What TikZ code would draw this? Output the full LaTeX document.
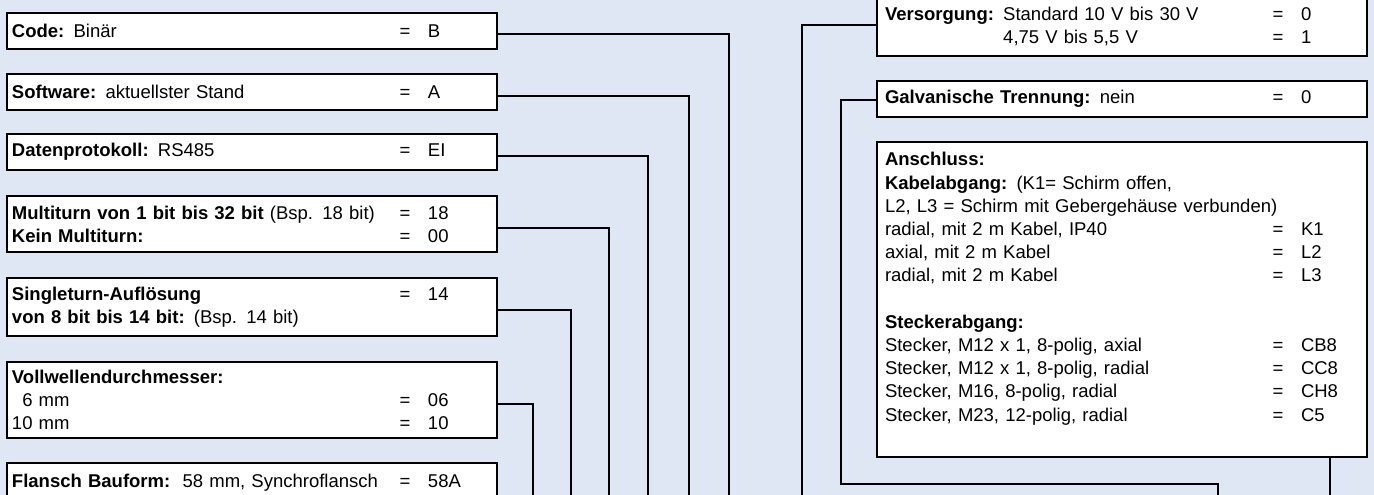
\documentclass[tikz,border=0pt]{standalone}
\usepackage{fontspec}
\setmainfont{Liberation Sans}

\definecolor{panel}{RGB}{224,231,244}
\newcommand{\keyrow}[2]{\makebox[387pt][l]{#1}\makebox[12pt]{=}\hspace{17pt}#2}

\begin{document}
\begin{tikzpicture}[x=1pt, y=-1pt,
    font=\fontsize{18.5}{23.2}\selectfont,
    box/.style={draw, line width=2.6pt, fill=white, anchor=north west, outer sep=0pt, align=left},
    leftbox/.style={box, text width=480pt, inner xsep=5pt},
    rightbox/.style={box, text width=474pt, inner xsep=8pt},
    link/.style={line width=1.5pt}]

    \fill[panel] (0,0) rectangle (1374,495);
    \useasboundingbox (0,0) rectangle (1374,495);
    \clip (0,0) rectangle (1374,495);

    % left column
    \node[leftbox, minimum height=36] at (7, 13) (code) {\keyrow{\textbf{Code:} Binär}{B}};
    \node[leftbox, minimum height=36] at (7, 74) (software) {\keyrow{\textbf{Software:} aktuellster Stand}{A}};
    \node[leftbox, minimum height=36] at (7, 134) (protocol) {\keyrow{\textbf{Datenprotokoll:} RS485}{EI}};
    \node[leftbox, minimum height=56] at (7, 196) (multi) {\keyrow{\textbf{Multiturn von 1 bit bis 32 bit} (Bsp. 18 bit)}{18}\\
        \keyrow{\textbf{Kein Multiturn:}}{00}};
    \node[leftbox, minimum height=58] at (7, 278) (single) {\keyrow{\textbf{Singleturn-Auflösung}}{14}\\
        \textbf{von 8 bit bis 14 bit:} (Bsp. 14 bit)};
    \node[leftbox, minimum height=76] at (7, 362) (shaft) {\textbf{Vollwellendurchmesser:}\\
        \keyrow{\phantom{1}6 mm}{06}\\
        \keyrow{10 mm}{10}};
    \node[leftbox, minimum height=40] at (7, 463) (flange) {\keyrow{\textbf{Flansch Bauform:}\ \ 58 mm, Synchroflansch}{58A}};

    % right column
    \node[rightbox, minimum height=58] at (877, -2) (supply) {\keyrow{\textbf{Versorgung:} Standard 10 V bis 30 V}{0}\\
        \keyrow{\phantom{\textbf{Versorgung:} }4,75 V bis 5,5 V}{1}};
    \node[rightbox, minimum height=36] at (877, 81) (galv) {\keyrow{\textbf{Galvanische Trennung:} nein}{0}};
    \node[rightbox, inner ysep=10.5pt] at (877, 142) (conn) {\textbf{Anschluss:}\\
        \textbf{Kabelabgang:} (K1= Schirm offen,\\
        L2, L3 = Schirm mit Gebergehäuse verbunden)\\
        \keyrow{radial, mit 2 m Kabel, IP40}{K1}\\
        \keyrow{axial, mit 2 m Kabel}{L2}\\
        \keyrow{radial, mit 2 m Kabel}{L3}\\[23.2pt]
        \textbf{Steckerabgang:}\\
        \keyrow{Stecker, M12 x 1, 8-polig, axial}{CB8}\\
        \keyrow{Stecker, M12 x 1, 8-polig, radial}{CC8}\\
        \keyrow{Stecker, M16, 8-polig, radial}{CH8}\\
        \keyrow{Stecker, M23, 12-polig, radial}{C5}\\[2pt]
        \mbox{}};

    % line ends below the frame
    \coordinate (codeEnd) at (729, 500);
    \coordinate (softwareEnd) at (689, 500);
    \coordinate (protocolEnd) at (648, 500);
    \coordinate (multiEnd) at (609, 500);
    \coordinate (singleEnd) at (571, 500);
    \coordinate (shaftEnd) at (533, 500);
    \coordinate (supplyEnd) at (802, 500);
    \coordinate (galvTurn) at (841, 484);
    \coordinate (galvEnd) at (1218, 500);
    \coordinate (connEnd) at (1330, 500);

    \draw[link] ([yshift=-3pt]code.east) -| (codeEnd);
    \draw[link] ([yshift=-4pt]software.east) -| (softwareEnd);
    \draw[link] ([yshift=-4pt]protocol.east) -| (protocolEnd);
    \draw[link] ([yshift=-4pt]multi.east) -| (multiEnd);
    \draw[link] ([yshift=-3pt]single.east) -| (singleEnd);
    \draw[link] ([yshift=-4pt]shaft.east) -| (shaftEnd);
    \draw[link] ([yshift=2pt]supply.west) -| (supplyEnd);
    \draw[link] ([yshift=-1pt]galv.west) -| (galvTurn) -| (galvEnd);
    \draw[link] (connEnd |- conn.south) -- (connEnd);
\end{tikzpicture}
\end{document}
